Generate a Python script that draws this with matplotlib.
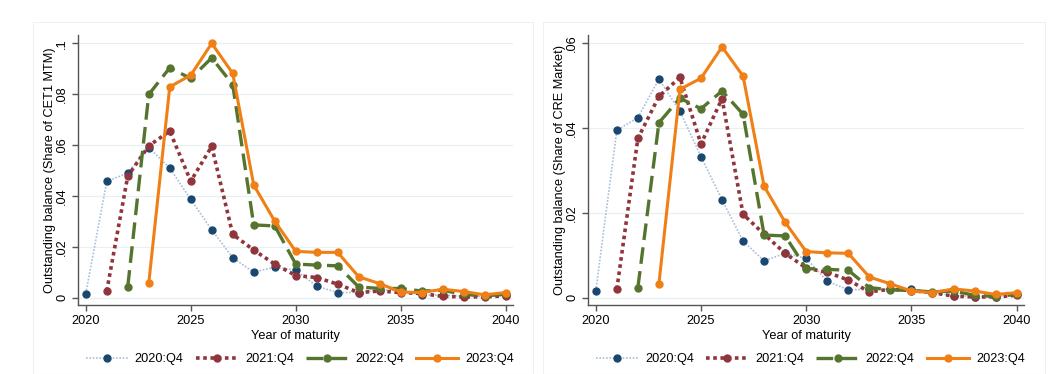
import matplotlib
matplotlib.use("Agg")
from matplotlib import pyplot as plt
from matplotlib.patches import Rectangle

plt.rcParams['font.family'] = ['Liberation Sans', 'DejaVu Sans']

years = list(range(2020, 2041))
labels = ['2020:Q4', '2021:Q4', '2022:Q4', '2023:Q4']

# share of CET1 MTM (left panel)
cet1_2020 = [0.0016, 0.0457, 0.049, 0.059, 0.051, 0.0386, 0.0267, 0.0157, 0.010, 0.012, 0.0108,
             0.0045, 0.002, 0.002, 0.003, 0.003, 0.001, 0.001, 0.0005, 0.0005, 0.001]
cet1_2021 = [0.0026, 0.0478, 0.0597, 0.0655, 0.0458, 0.0595, 0.0249, 0.0187, 0.0132, 0.0087,
             0.0079, 0.0053, 0.002, 0.0026, 0.002, 0.0016, 0.0005, 0.0003, 0.0003, 0.0007]
cet1_2022 = [0.0043, 0.0799, 0.0904, 0.0862, 0.0943, 0.0838, 0.0286, 0.0282, 0.0132, 0.0128,
             0.0125, 0.0042, 0.0036, 0.0036, 0.0026, 0.0029, 0.0013, 0.0007, 0.0013]
cet1_2023 = [0.0057, 0.0829, 0.0875, 0.1, 0.0882, 0.0443, 0.0301, 0.0182, 0.0178, 0.0178,
             0.0082, 0.0055, 0.0022, 0.002, 0.0033, 0.0024, 0.0011, 0.002]

# share of CRE market (right panel)
cre_2020 = [0.0016, 0.0395, 0.0425, 0.0516, 0.044, 0.0333, 0.0231, 0.0134, 0.0087, 0.0105, 0.0093,
            0.0039, 0.0019, 0.002, 0.002, 0.002, 0.0012, 0.0005, 0.0003, 0.0003, 0.0008]
cre_2021 = [0.002, 0.0376, 0.0475, 0.052, 0.0363, 0.047, 0.0197, 0.015, 0.0105, 0.007,
            0.006, 0.0042, 0.0014, 0.002, 0.0017, 0.0012, 0.0004, 0.0002, 0.0002, 0.0006]
cre_2022 = [0.0024, 0.0413, 0.0471, 0.0446, 0.0488, 0.0433, 0.0148, 0.0146, 0.0069, 0.0067,
            0.0065, 0.0024, 0.0019, 0.0017, 0.0014, 0.0016, 0.0006, 0.0003, 0.0008]
cre_2023 = [0.0033, 0.0492, 0.0518, 0.0592, 0.0523, 0.0263, 0.0178, 0.0109, 0.0106, 0.0105,
            0.0049, 0.0033, 0.0016, 0.0012, 0.0021, 0.0016, 0.0008, 0.0012]

navy = '#1a476f'
maroon = '#90353b'
green = '#55752f'
orange = '#f07f16'
ltblue = '#a9bfd6'
fs = 9.2

fig = plt.figure(figsize=(10.5, 3.74), dpi=100)
W, H = 1050, 374

# faint panel outlines
for x0, x1 in [(33, 533), (543, 1045)]:
    fig.patches.append(Rectangle((x0 / W, 0), (x1 - x0) / W, (H - 22) / H, transform=fig.transFigure,
                                 fill=False, edgecolor='#f0f0f0', lw=0.8))


def panel(left, right, series, ylim, yticks, yticklabels, ylabel):
    ax = fig.add_axes([left / W, 1 - 305 / H, (right - left) / W, (305 - 35) / H])
    s2020, s2021, s2022, s2023 = series
    ax.plot(years[:len(s2020)], s2020, color=ltblue, lw=1.2, ls=(0, (1, 1)), marker='o', ms=5,
            mfc=navy, mec=navy, label=labels[0], zorder=3)
    ax.plot(years[1:1 + len(s2021)], s2021, color=maroon, lw=2.6, ls=(0, (1, 1)), marker='o', ms=5,
            label=labels[1], zorder=4)
    ax.plot(years[2:2 + len(s2022)], s2022, color=green, lw=2.4, ls=(0, (5, 2.2)), marker='o', ms=5,
            label=labels[2], zorder=5)
    ax.plot(years[3:3 + len(s2023)], s2023, color=orange, lw=2.2, ls='-', marker='o', ms=5,
            label=labels[3], zorder=6)
    ax.set_xlim(2019.63, 2040.35)
    ax.set_ylim(*ylim)
    ax.set_xticks([2020, 2025, 2030, 2035, 2040])
    ax.set_yticks(yticks)
    ax.set_yticklabels(yticklabels, rotation=90, va='center')
    ax.tick_params(labelsize=fs, length=4, color='#555555', width=1, pad=3)
    ax.grid(axis='y', color='#e8f0f3', lw=0.9)
    ax.set_axisbelow(True)
    for s in ['top', 'right']:
        ax.spines[s].set_visible(False)
    for s in ['left', 'bottom']:
        ax.spines[s].set_color('#555555')
        ax.spines[s].set_linewidth(1)
    ax.set_xlabel('Year of maturity', fontsize=fs, labelpad=2)
    ax.set_ylabel(ylabel, fontsize=fs, labelpad=0)
    ax.legend(loc='center', bbox_to_anchor=(0.51, -0.2), ncol=4, frameon=False,
              fontsize=fs, handlelength=3.3, columnspacing=0.95, handletextpad=0.55)
    return ax


panel(78, 513, (cet1_2020, cet1_2021, cet1_2022, cet1_2023), (-0.0029, 0.1033),
      [0, 0.02, 0.04, 0.06, 0.08, 0.1], ['0', '.02', '.04', '.06', '.08', '.1'],
      'Outstanding balance (Share of CET1 MTM)')
panel(588, 1024, (cre_2020, cre_2021, cre_2022, cre_2023), (-0.0017, 0.062),
      [0, 0.02, 0.04, 0.06], ['0', '.02', '.04', '.06'],
      'Outstanding balance (Share of CRE Market)')

fig.savefig('out.png', dpi=100)
